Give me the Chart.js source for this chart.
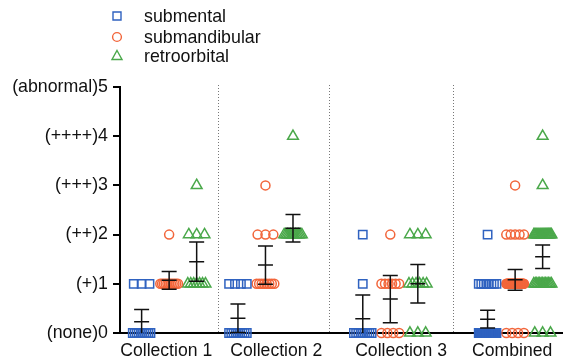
<!DOCTYPE html>
<html>
<head>
<meta charset="utf-8">
<script src="https://cdn.jsdelivr.net/npm/chart.js@4/dist/chart.umd.min.js"></script>
<style>
  html, body { margin: 0; padding: 0; background: #fff; }
</style>
</head>
<body>
<canvas id="chart" width="570" height="362"></canvas>
<script>
var groupLabels = ['Collection 1', 'Collection 2', 'Collection 3', 'Combined'];
var yTickLabels = ['(none)0', '(+)1', '(++)2', '(+++)3', '(++++)4', '(abnormal)5'];
var seriesNames = ['submental', 'submandibular', 'retroorbital'];

// animals per score 0..5, one row per group
var submentalCounts = [
  [10, 3, 0, 0, 0, 0],
  [9, 4, 0, 0, 0, 0],
  [9, 1, 1, 0, 0, 0],
  [28, 8, 1, 0, 0, 0]
];
var submandibularCounts = [
  [0, 11, 1, 0, 0, 0],
  [0, 8, 3, 1, 0, 0],
  [4, 6, 1, 0, 0, 0],
  [4, 25, 5, 1, 0, 0]
];
var retroorbitalCounts = [
  [0, 7, 3, 1, 0, 0],
  [0, 0, 12, 0, 1, 0],
  [3, 6, 3, 0, 0, 0],
  [3, 13, 18, 1, 1, 0]
];

// mean and error bar half-length
var submentalMean = [0.23, 0.30, 0.29, 0.28];
var submentalErr = [0.25, 0.29, 0.48, 0.18];
var submandibularMean = [1.07, 1.38, 0.69, 1.08];
var submandibularErr = [0.18, 0.39, 0.48, 0.21];
var retroorbitalMean = [1.45, 2.13, 1.00, 1.55];
var retroorbitalErr = [0.40, 0.28, 0.39, 0.24];

// layout (x axis in pixel-like units)
var groupCenters = [50, 148, 275, 402];
var labelCenters = [47, 159, 286, 399];
var separators = [100, 213, 339];
var columnOffset = [-28, 0, 28];
var colors = ['#2f62c0', '#f2653a', '#4aa84a'];
var styles = ['rect', 'circle', 'triangle'];
var radii = [5.9, 4.5, 6.2];
var FONT = "'Liberation Sans', Arial, sans-serif";

function buildPoints(counts, s) {
  var pts = [];
  for (var g = 0; g < counts.length; g++) {
    for (var v = 0; v < counts[g].length; v++) {
      var k = counts[g][v];
      var span = Math.min((k - 1) * 8, 18);
      for (var i = 0; i < k; i++) {
        var dx = k > 1 ? -span / 2 + i * span / (k - 1) : 0;
        pts.push({ x: groupCenters[g] + columnOffset[s] + dx, y: v });
      }
    }
  }
  return pts;
}

var allCounts = [submentalCounts, submandibularCounts, retroorbitalCounts];
var allMeans = [submentalMean, submandibularMean, retroorbitalMean];
var allErrs = [submentalErr, submandibularErr, retroorbitalErr];

var datasets = seriesNames.map(function (name, s) {
  return {
    label: name,
    data: buildPoints(allCounts[s], s),
    pointStyle: styles[s],
    pointRadius: radii[s],
    pointHoverRadius: radii[s],
    borderColor: colors[s],
    backgroundColor: 'rgba(0,0,0,0)',
    pointBorderWidth: 1.5,
    clip: false
  };
});

function drawMarker(ctx, style, x, y, color) {
  ctx.save();
  ctx.strokeStyle = color;
  ctx.lineWidth = 1.4;
  ctx.beginPath();
  if (style === 'rect') {
    ctx.rect(x - 4, y - 4, 8, 8);
  } else if (style === 'circle') {
    ctx.arc(x, y, 4.4, 0, Math.PI * 2);
  } else {
    ctx.moveTo(x, y - 5.5);
    ctx.lineTo(x + 5, y + 3.5);
    ctx.lineTo(x - 5, y + 3.5);
    ctx.closePath();
  }
  ctx.stroke();
  ctx.restore();
}

var extras = {
  id: 'extras',
  beforeDatasetsDraw: function (chart) {
    var ctx = chart.ctx, xs = chart.scales.x, area = chart.chartArea;
    ctx.save();
    ctx.strokeStyle = '#777';
    ctx.lineWidth = 1;
    ctx.setLineDash([1, 2]);
    separators.forEach(function (v) {
      var px = Math.round(xs.getPixelForValue(v)) + 0.5;
      ctx.beginPath();
      ctx.moveTo(px, area.top - 2);
      ctx.lineTo(px, area.bottom);
      ctx.stroke();
    });
    ctx.restore();
  },
  afterDatasetsDraw: function (chart) {
    var ctx = chart.ctx, xs = chart.scales.x, ys = chart.scales.y;
    ctx.save();
    ctx.strokeStyle = '#111';
    ctx.lineWidth = 1.5;
    for (var s = 0; s < 3; s++) {
      for (var g = 0; g < groupCenters.length; g++) {
        var m = allMeans[s][g], e = allErrs[s][g];
        var px = xs.getPixelForValue(groupCenters[g] + columnOffset[s]);
        var yTop = ys.getPixelForValue(m + e);
        var yBot = ys.getPixelForValue(Math.max(0, m - e));
        var yMid = ys.getPixelForValue(m);
        ctx.beginPath();
        ctx.moveTo(px, yTop); ctx.lineTo(px, yBot);
        ctx.moveTo(px - 7.5, yTop); ctx.lineTo(px + 7.5, yTop);
        if (m - e > 0) { ctx.moveTo(px - 7.5, yBot); ctx.lineTo(px + 7.5, yBot); }
        ctx.moveTo(px - 7.5, yMid); ctx.lineTo(px + 7.5, yMid);
        ctx.stroke();
      }
    }
    ctx.restore();
  },
  afterDraw: function (chart) {
    var ctx = chart.ctx;
    var rows = [16, 37, 56];
    ctx.save();
    ctx.font = '17.8px ' + FONT;
    ctx.fillStyle = '#111';
    ctx.textBaseline = 'middle';
    seriesNames.forEach(function (name, s) {
      drawMarker(ctx, styles[s], 117, rows[s], colors[s]);
      ctx.fillText(name, 144, rows[s] + 1);
    });
    ctx.restore();
  }
};

new Chart(document.getElementById('chart'), {
  type: 'scatter',
  data: { datasets: datasets },
  options: {
    responsive: false,
    animation: false,
    events: [],
    layout: { padding: { top: 87, right: 0, bottom: 0, left: 0 } },
    plugins: { legend: { display: false }, tooltip: { enabled: false } },
    scales: {
      x: {
        type: 'linear',
        min: 0,
        max: 450,
        afterBuildTicks: function (scale) {
          scale.ticks = labelCenters.map(function (v) { return { value: v }; });
        },
        afterFit: function (scale) { scale.height = 29; },
        grid: { display: false },
        border: { display: true, color: '#000', width: 2 },
        ticks: {
          autoSkip: false,
          maxRotation: 0,
          padding: 0,
          color: '#111',
          font: { family: FONT, size: 17.6 },
          callback: function (v, i) { return groupLabels[i]; }
        }
      },
      y: {
        min: 0,
        max: 5,
        afterFit: function (scale) { scale.width = 120; },
        grid: { drawOnChartArea: false, drawTicks: true, tickLength: 7, color: '#000', lineWidth: 2 },
        border: { display: true, color: '#000', width: 2 },
        ticks: {
          stepSize: 1,
          padding: 5,
          color: '#111',
          font: { family: FONT, size: 17.8 },
          callback: function (v) { return yTickLabels[v]; }
        }
      }
    }
  },
  plugins: [extras]
});
</script>
</body>
</html>
